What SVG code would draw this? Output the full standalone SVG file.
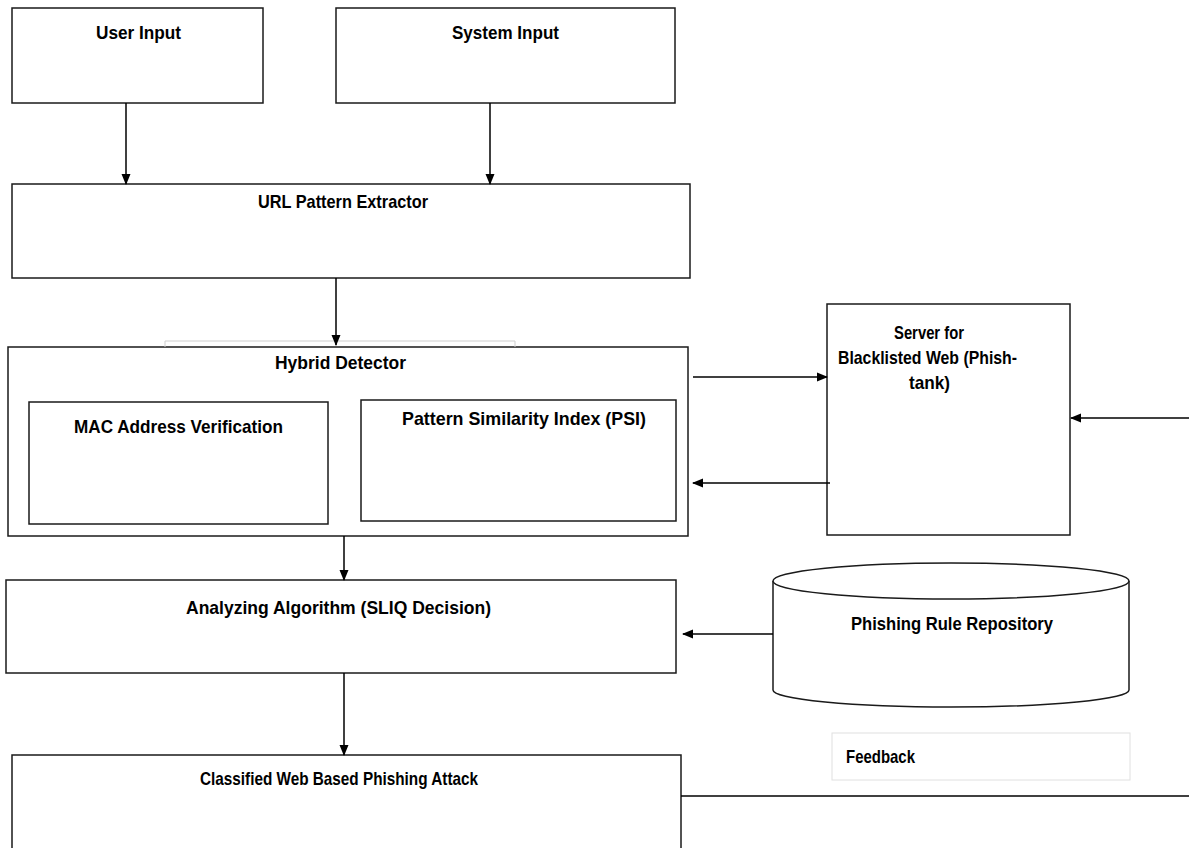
<svg xmlns="http://www.w3.org/2000/svg" width="1189" height="848" viewBox="0 0 1189 848">
<defs>
<style>
.box{fill:#fff;stroke:#1a1a1a;stroke-width:1.5}
.ln{fill:none;stroke:#000;stroke-width:1.5}
.t{font-family:"Liberation Sans",Arial,sans-serif;font-weight:bold;font-size:18.5px;fill:#000}
</style>
<marker id="ah" markerWidth="11" markerHeight="10" refX="10" refY="5" orient="auto" markerUnits="userSpaceOnUse">
<path d="M0,0.5 L11,5 L0,9.5 Z" fill="#000"/>
</marker>
</defs>
<rect width="1189" height="848" fill="#fff"/>

<g id="user-input">
<rect class="box" x="12" y="8" width="251" height="95"/>
<text class="t" x="96" y="39" textLength="85" lengthAdjust="spacingAndGlyphs">User Input</text>
</g>
<g id="system-input">
<rect class="box" x="336" y="8" width="339" height="95"/>
<text class="t" x="452" y="39" textLength="107" lengthAdjust="spacingAndGlyphs">System Input</text>
</g>
<g id="url-extractor">
<rect class="box" x="12" y="184" width="678" height="94"/>
<text class="t" x="258" y="208" textLength="170" lengthAdjust="spacingAndGlyphs">URL Pattern Extractor</text>
</g>
<g id="hybrid-detector">
<rect class="box" x="8" y="347" width="680" height="189"/>
<path d="M165,347 V341 H515 V347" fill="none" stroke="#cfcfcf" stroke-width="1"/>
<text class="t" x="275" y="369" textLength="131" lengthAdjust="spacingAndGlyphs">Hybrid Detector</text>
</g>
<g id="mac-verification">
<rect class="box" x="29" y="402" width="299" height="122"/>
<text class="t" x="74" y="433" textLength="209" lengthAdjust="spacingAndGlyphs">MAC Address Verification</text>
</g>
<g id="psi">
<rect class="box" x="361" y="400" width="315" height="121"/>
<text class="t" x="402" y="425" textLength="244" lengthAdjust="spacingAndGlyphs">Pattern Similarity Index (PSI)</text>
</g>
<g id="blacklist-server">
<rect class="box" x="827" y="304" width="243" height="231"/>
<text class="t" x="894" y="339" textLength="70" lengthAdjust="spacingAndGlyphs">Server for</text>
<text class="t" x="838" y="364" textLength="179" lengthAdjust="spacingAndGlyphs">Blacklisted Web (Phish-</text>
<text class="t" x="909" y="389" textLength="41" lengthAdjust="spacingAndGlyphs">tank)</text>
</g>
<g id="analyzing-algorithm">
<rect class="box" x="6" y="580" width="670" height="93"/>
<text class="t" x="186" y="614" textLength="305" lengthAdjust="spacingAndGlyphs">Analyzing Algorithm (SLIQ Decision)</text>
</g>
<g id="phishing-rule-repository">
<path class="box" d="M773,581 V690 A178,17 0 0 0 1129,690 V581"/>
<ellipse class="box" cx="951" cy="581" rx="178" ry="18"/>
<text class="t" x="851" y="630" textLength="202" lengthAdjust="spacingAndGlyphs">Phishing Rule Repository</text>
</g>
<g id="classified-attack">
<rect class="box" x="12" y="755" width="669" height="100"/>
<text class="t" x="200" y="785" textLength="278" lengthAdjust="spacingAndGlyphs">Classified Web Based Phishing Attack</text>
</g>
<g id="feedback">
<rect x="832" y="733" width="298" height="47" fill="#fff" stroke="#e0e0e0" stroke-width="1"/>
<text class="t" x="846" y="763" textLength="69" lengthAdjust="spacingAndGlyphs">Feedback</text>
</g>

<g id="connectors">
<line class="ln" x1="126" y1="103" x2="126" y2="184" marker-end="url(#ah)"/>
<line class="ln" x1="490" y1="103" x2="490" y2="184" marker-end="url(#ah)"/>
<line class="ln" x1="336" y1="278" x2="336" y2="345" marker-end="url(#ah)"/>
<line class="ln" x1="693" y1="377" x2="827" y2="377" marker-end="url(#ah)"/>
<line class="ln" x1="830" y1="483" x2="693" y2="483" marker-end="url(#ah)"/>
<line class="ln" x1="1189" y1="418" x2="1071" y2="418" marker-end="url(#ah)"/>
<line class="ln" x1="344" y1="536" x2="344" y2="580" marker-end="url(#ah)"/>
<line class="ln" x1="773" y1="634" x2="683" y2="634" marker-end="url(#ah)"/>
<line class="ln" x1="344" y1="673" x2="344" y2="755" marker-end="url(#ah)"/>
<line class="ln" x1="681" y1="796" x2="1189" y2="796"/>
</g>
</svg>
